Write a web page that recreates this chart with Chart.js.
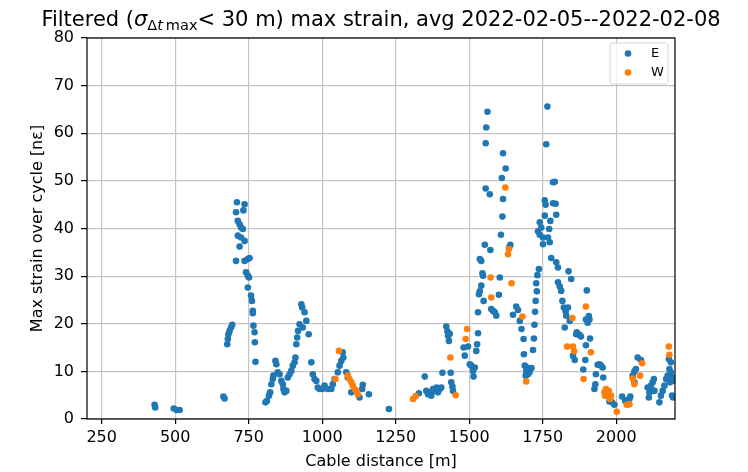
<!DOCTYPE html>
<html>
<head>
<meta charset="utf-8">
<script src="https://cdn.jsdelivr.net/npm/chart.js@4.4.1/dist/chart.umd.min.js"></script>
<style>
  body { margin: 0; background: #fff; }
  canvas { display: block; }
</style>
</head>
<body>
<canvas id="myChart" width="748" height="472"></canvas>
<script>
// E series: cable distance [m] and max strain [ne]
var eDist = [430,432,495,505,515,664,668,
  677,679,681,685,690,694,
  710,736,707,732,713,719,724,730,713,724,736,719,707,736,747,753,741,747,751,747,758,761,764,764,766,770,771,773,
  807,812,819,823,827,832,834,841,844,849,855,861,866,868,872,878,883,889,895,900,906,909,912,915,918,923,929,932,940,946,934,954,963,968,974,980,985,991,1000,1008,1019,1031,1036,1042,
  1070,1072,1065,1059,1053,1082,1087,1099,1127,1138,1136,1159,
  1227,
  1329,1349,1354,1360,1366,1371,1377,1383,1389,1394,1400,1405,1409,
  1422,1426,1428,1431,1434,1437,1439,1443,1445,
  1481,1485,1496,1502,1507,1513,1515,1519,1524,1527,1530,
  1530,1533,1536,1541,1547,1536,1541,1553,1558,1556,1562,1556,1570,1572,1545,1575,1581,1587,1592,1549,
  1604,1601,1615,1624,1611,1615,1613,1608,
  1640,1636,1649,1660,1666,
  1672,1678,1685,1686,1689,1694,1700,1705,1712,1692,1697,1704,
  1717,1720,1722,1724,1726,1730,1728,1732,1737,
  1766,1762,1785,1791,1757,1760,1794,1785,1757,1796,1776,1740,1745,1772,1734,1740,1751,1768,1774,1751,1779,1796,1802,1802,1808,1813,1817,1822,1828,1830,1836,1825,1842,1838,1847,1864,
  1853,1859,1866,1875,1880,
  1900,1907,1909,1903,1911,1897,1895,1888,1897,
  1931,1937,1943,1948,1954,1956,1929,1926,
  1977,1986,1994,
  2020,2031,2039,2048,2045,
  2056,2062,2067,2073,2084,2062,
  2107,2113,2118,2124,2128,2111,2122,2130,2147,2152,2158,2164,2170,2175,2181,2186,2192,2194,2183,2190,2194,2179,2186];
var eStrain = [3.0,2.4,2.2,1.9,1.9,4.7,4.3,
  15.7,16.8,17.8,18.5,19.2,19.8,
  45.5,45.1,43.4,43.8,41.6,40.9,40.2,39.9,38.5,38.1,37.4,36.2,33.2,33.2,33.6,33.8,30.8,30.1,29.7,27.6,25.9,24.8,22.7,22.2,19.6,18.2,16.1,12.0,
  3.5,3.8,4.9,5.6,7.3,8.4,9.1,12.2,11.5,9.8,9.4,8.0,7.3,6.3,5.6,5.9,8.7,9.4,10.1,11.2,11.9,12.9,15.7,17.1,18.5,19.9,24.1,23.4,22.4,20.6,19.2,17.8,11.9,9.4,8.4,8.0,6.6,6.3,6.3,7.0,6.3,6.3,7.3,8.4,
  14.0,12.9,12.2,11.2,9.8,9.8,8.7,5.6,4.5,7.2,6.3,5.2,
  2.1,
  5.4,8.9,5.9,5.2,5.6,4.9,6.3,5.9,6.6,5.6,6.3,6.6,9.7,
  19.4,18.4,17.5,16.4,17.9,9.7,7.7,6.8,5.9,
  15.0,13.3,15.2,11.5,11.2,10.1,8.9,10.8,14.3,15.7,18.0,
  22.4,26.2,26.8,28.0,30.1,33.6,33.2,36.6,61.2,57.9,64.5,48.4,47.2,35.5,30.6,23.1,22.7,22.4,21.7,24.8,
  29.7,26.1,55.8,52.6,50.6,46.2,42.5,38.7,
  36.6,36.0,21.9,23.6,22.9,
  20.6,18.9,16.8,13.6,11.2,10.1,9.4,9.8,10.7,9.1,10.8,10.1,
  14.5,16.9,19.8,22.5,24.8,26.8,28.5,30.2,31.5,
  65.6,57.7,49.7,49.8,45.9,45.0,45.2,45.3,42.7,42.9,41.6,41.3,40.2,39.9,39.4,38.7,38.1,38.1,37.1,36.7,33.8,32.9,31.8,28.7,27.8,26.9,24.8,23.4,22.6,21.7,23.4,19.2,20.6,31.0,29.4,17.8,
  13.3,12.4,18.2,17.7,17.3,
  27.0,21.6,20.9,20.2,16.9,15.5,12.4,10.4,20.9,
  9.4,11.4,11.5,11.2,10.8,8.7,7.3,6.3,
  3.7,3.5,3.0,
  4.7,3.8,4.0,4.7,4.2,
  9.1,10.0,10.5,12.9,12.4,7.7,
  6.6,5.6,7.0,7.7,8.4,4.5,5.9,5.9,3.5,4.9,5.9,7.0,8.4,9.1,10.5,9.8,8.7,8.0,7.7,4.9,4.5,12.6,11.9];

// W series
var wDist = [1057,1045,1087,1093,1099,1104,1110,1116,1121,
  1309,1318,1436,1454,1493,1488,
  1573,1575,1623,1635,1632,1644,1681,1694,
  1851,1833,1853,1857,
  1897,1889,1914,
  1960,1965,1968,1971,1962,1975,1979,1982,
  2002,2036,2045,
  2056,2062,2081,2088,
  2179,2181];
var wStrain = [14.3,8.4,9.1,8.4,7.7,7.0,6.3,5.9,5.2,
  4.2,4.8,12.9,5.0,18.9,16.8,
  29.7,25.5,48.6,35.7,34.6,28.5,21.5,7.9,
  21.2,15.2,15.2,14.2,
  23.6,8.4,14.0,
  5.6,6.3,5.2,4.9,4.9,5.9,4.2,4.9,
  1.5,3.0,3.1,
  8.5,7.3,9.1,11.7,
  15.2,13.5];

var xTicks = [250,500,750,1000,1250,1500,1750,2000];
var yTicks = [0,10,20,30,40,50,60,70,80];

function toPoints(xs, ys){
    return xs.map(function(x, i){ return {x: x, y: ys[i]}; });
}

var FONT = "'DejaVu Sans', sans-serif";

// title with the mathtext subscript, legend box and the axes frame
var extras = {
  id: 'extras',
  afterDatasetsDraw: function(chart){
    var c = chart.ctx, a = chart.chartArea;
    c.save();
    // frame
    c.strokeStyle = '#000';
    c.lineWidth = 1.2;
    c.strokeRect(a.left, a.top, a.right - a.left, a.bottom - a.top);

    // legend
    var lx = 610, ly = 43, lw = 58, lh = 41, r = 3;
    c.beginPath();
    c.moveTo(lx + r, ly);
    c.arcTo(lx + lw, ly, lx + lw, ly + lh, r);
    c.arcTo(lx + lw, ly + lh, lx, ly + lh, r);
    c.arcTo(lx, ly + lh, lx, ly, r);
    c.arcTo(lx, ly, lx + lw, ly, r);
    c.closePath();
    c.fillStyle = 'rgba(255,255,255,0.8)';
    c.fill();
    c.strokeStyle = '#d6d6d6';
    c.lineWidth = 1;
    c.stroke();
    var names = ['E', 'W'], cols = ['#1f77b4', '#ff7f0e'];
    c.font = '13px ' + FONT;
    c.textBaseline = 'middle';
    c.textAlign = 'left';
    for (var i = 0; i < 2; i++) {
      var yy = 53.5 + i * 19;
      c.fillStyle = cols[i];
      c.beginPath();
      c.arc(628, yy, 3.3, 0, Math.PI * 2);
      c.fill();
      c.fillStyle = '#000';
      c.fillText(names[i], 651, yy + 0.5);
    }

    // title
    var parts = [
      {t: 'Filtered (', f: '21px ' + FONT, dy: 0},
      {t: '\u03c3', f: 'italic 21px ' + FONT, dy: 0},
      {t: '\u0394', f: '14.5px ' + FONT, dy: 4},
      {t: 't', f: 'italic 14.5px ' + FONT, dy: 4},
      {t: '\u2009max', f: '14.5px ' + FONT, dy: 4},
      {t: '< 30 m) max strain, avg 2022-02-05--2022-02-08', f: '21px ' + FONT, dy: 0}
    ];
    var total = 0;
    parts.forEach(function(p){ c.font = p.f; p.w = c.measureText(p.t).width; total += p.w; });
    var x = (a.left + a.right) / 2 - total / 2;
    c.fillStyle = '#000';
    c.textBaseline = 'alphabetic';
    parts.forEach(function(p){
      c.font = p.f;
      c.fillText(p.t, x, 26 + p.dy);
      x += p.w;
    });
    c.restore();
  }
};

var ctx = document.getElementById("myChart");
var myChart = new Chart(ctx, {
  type: 'scatter',
  data: {
    datasets: [
      {
        label: 'E',
        data: toPoints(eDist, eStrain),
        backgroundColor: '#1f77b4',
        borderWidth: 0,
        pointRadius: 3.3,
        order: 2,
        clip: 0
      },
      {
        label: 'W',
        data: toPoints(wDist, wStrain),
        backgroundColor: '#ff7f0e',
        borderWidth: 0,
        pointRadius: 3.3,
        order: 1,
        clip: 0
      }
    ]
  },
  options: {
    responsive: false,
    animation: false,
    devicePixelRatio: 1,
    layout: { padding: { top: 38, right: 73, bottom: 0, left: 0 } },
    plugins: {
      legend: { display: false },
      tooltip: { enabled: false }
    },
    scales: {
      x: {
        type: 'linear',
        min: 200,
        max: 2200,
        afterBuildTicks: function(scale){
          scale.ticks = xTicks.map(function(v){ return {value: v}; });
        },
        afterFit: function(scale){ scale.height = 53; },
        border: { display: false },
        grid: { color: '#c4c4c4', lineWidth: 1.2, tickColor: '#000', tickLength: 5 },
        ticks: {
          color: '#000',
          padding: 4,
          font: { family: FONT, size: 16 },
          callback: function(v){ return String(v); }
        },
        title: {
          display: true,
          text: 'Cable distance [m]',
          color: '#000',
          font: { family: FONT, size: 16 },
          padding: { top: 0, bottom: 1 }
        }
      },
      y: {
        min: 0,
        max: 80,
        afterBuildTicks: function(scale){
          scale.ticks = yTicks.map(function(v){ return {value: v}; });
        },
        afterFit: function(scale){ scale.width = 87; },
        border: { display: false },
        grid: { color: '#c4c4c4', lineWidth: 1.2, tickColor: '#000', tickLength: 6 },
        ticks: {
          color: '#000',
          padding: 7,
          font: { family: FONT, size: 16 },
          callback: function(v){ return String(v); }
        },
        title: {
          display: true,
          text: 'Max strain over cycle [n\u03b5]',
          color: '#000',
          font: { family: FONT, size: 16 },
          padding: { top: 28, bottom: 0 }
        }
      }
    }
  },
  plugins: [extras]
});
</script>
</body>
</html>
